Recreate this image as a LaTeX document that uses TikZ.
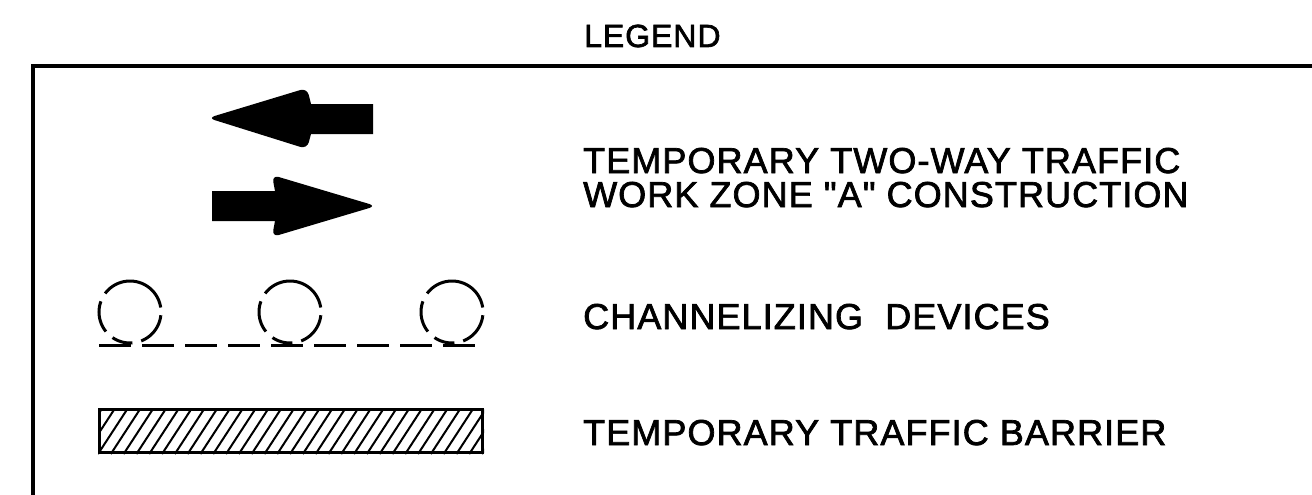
\documentclass[tikz,border=0pt]{standalone}
\usepackage{fontspec}
\setmainfont{Liberation Sans}
\newfontfamily\legfont{Liberation Sans}[FakeBold=2, LetterSpace=3]
\usetikzlibrary{positioning}
\tikzset{
	lbl/.style={anchor=base west, inner sep=0pt, font=\legfont\fontsize{36}{36}\selectfont},
	frame/.style={line width=4.5pt, line cap=rect},
	chdash/.style={line width=3pt, dash pattern=on 32pt off 11pt},
	barrier/.style={draw, line width=3pt, rectangle, inner sep=0pt,
		minimum width=383pt, minimum height=43pt},
	hatch/.style={line width=2pt},
	cone/.style={circle, draw, line width=3pt, inner sep=0pt, minimum size=62pt,
		dash pattern=on 73pt off 9pt on 32pt off 9pt on 21pt off 9pt on 34pt off 9pt,
		dash phase=191.5pt},
}

\begin{document}
\begin{tikzpicture}[x=1pt, y=-1pt]
	\useasboundingbox (0,0) rectangle (1312,495);
	% open legend frame
	\coordinate (fbl) at (33,500);
	\coordinate (ftl) at (33,66);
	\coordinate (ftr) at (1320,66);
	\draw[frame] (fbl) -- (ftl) -- (ftr);
	\node[lbl, font=\legfont\fontsize{32}{32}\selectfont] (title) at (584,47) {LEGEND};
	% two-way traffic arrows
	\fill (373,104) -- (311,104) [rounded corners=7pt] -- (307,88) -- (208,118) -- (307,149) [sharp corners] -- (311,134) -- (373,134) -- cycle;
	\fill (212,191) -- (275,191) [rounded corners=7pt] -- (272,175) -- (376,206) -- (272,237) [sharp corners] -- (275,221) -- (212,221) -- cycle;
	\node[lbl] (twoa) at (583,173) {TEMPORARY TWO-WAY TRAFFIC};
	\node[lbl] (twob) at (583,207) {WORK ZONE "A" CONSTRUCTION};
	% channelizing devices
	\foreach \x [count=\i] in {130,290,452}
		\node[cone] (cd\i) at (\x,312) {};
	\draw[chdash] (99,345) -- (475,345);
	\node[lbl] (chan) at (583,329) {CHANNELIZING\ \ DEVICES};
	% temporary traffic barrier
	\begin{scope}
		\clip (98,408) rectangle (484,454);
		\foreach \i in {-3,...,31}
			\draw[hatch] (98+\i*12.8,454) -- ++(30,-46);
	\end{scope}
	\node[barrier] (ttb) at (291,431) {};
	\node[lbl] (ttbl) at (583,445) {TEMPORARY TRAFFIC BARRIER};
\end{tikzpicture}
\end{document}
